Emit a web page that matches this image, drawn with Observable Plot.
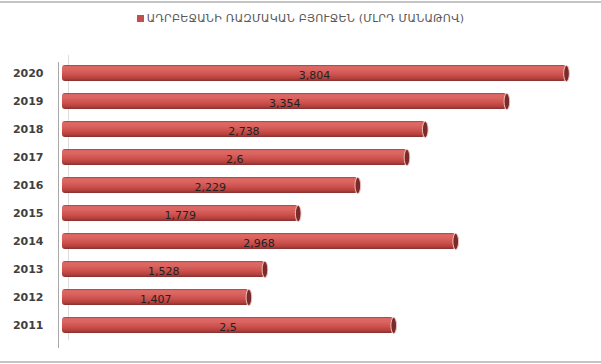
<!DOCTYPE html>
<html><head><meta charset="utf-8">
<script src="https://cdn.jsdelivr.net/npm/d3@7"></script>
<script src="https://cdn.jsdelivr.net/npm/@observablehq/plot@0.6"></script>
<style>
body{margin:0;background:#fff;font-family:"DejaVu Sans",sans-serif;}
#wrap{position:relative;width:601px;height:364px;overflow:hidden;}
#frame{position:absolute;left:-2px;top:1px;width:605px;height:362px;border-top:2px solid #c4c4c4;border-bottom:2px solid #c4c4c4;box-sizing:border-box;}
#legend{position:absolute;left:0;top:12px;width:601px;text-align:center;font-size:11px;letter-spacing:0.25px;color:#595959;white-space:nowrap;}
#legend .sw{display:inline-block;width:7px;height:7px;background:#c0504d;margin-right:3px;vertical-align:0px;}
#chart{position:absolute;left:0;top:40px;}
</style></head>
<body><div id="wrap"><div id="frame"></div>
<div id="legend"><span class="sw"></span><span id="ltxt"></span></div>
<div id="chart"></div></div>
<script>
const legendLabel = "ԱԴՐԲԵՋԱՆԻ ՌԱԶՄԱԿԱՆ ԲՅՈՒՋԵՆ (ՄԼՐԴ ՄԱՆԱԹՈՎ)";
const years = ["2020","2019","2018","2017","2016","2015","2014","2013","2012","2011"];
const budget = [3.804, 3.354, 2.738, 2.6, 2.229, 1.779, 2.968, 1.528, 1.407, 2.5];

document.getElementById("ltxt").textContent = legendLabel;
const data = years.map((y, i) => ({year: y, value: budget[i]}));
const fmt = v => String(v).replace(".", ",");

const ellipse = {
  draw(ctx) {
    const rx = 2.8, ry = 8, k = 0.5523;
    ctx.moveTo(0, -ry);
    ctx.bezierCurveTo(rx*k, -ry, rx, -ry*k, rx, 0);
    ctx.bezierCurveTo(rx, ry*k, rx*k, ry, 0, ry);
    ctx.bezierCurveTo(-rx*k, ry, -rx, ry*k, -rx, 0);
    ctx.bezierCurveTo(-rx, -ry*k, -rx*k, -ry, 0, -ry);
    ctx.closePath();
  }
};

const chart = Plot.plot({
  width: 601, height: 324,
  marginLeft: 62, marginRight: 35, marginTop: 13, marginBottom: 19,
  x: {domain: [0, 3.804], axis: null},
  y: {domain: years, padding: 0.43, round: false, label: null, tickSize: 0, tickPadding: 19},
  style: {fontFamily: "DejaVu Sans, sans-serif", fontSize: "11px", color: "#404040", background: "transparent"},
  marks: [
    Plot.ruleX([0], {dx: -4, insetTop: 9, insetBottom: -3, stroke: "#a8a8a8"}),
    Plot.ruleX([0], {dx: 6, insetTop: 2, insetBottom: 5, stroke: "#dcdcdc"}),
    Plot.barX(data, {x: "value", y: "year", fill: "url(#cyl)", rx: 3}),
    Plot.dot(data, {x: "value", y: "year", symbol: ellipse, fill: "#7a2a28", stroke: "#f2c4c2", strokeWidth: 1}),
    Plot.text(data, {x: d => d.value / 2, y: "year", text: d => fmt(d.value), dy: 2, fill: "#222", fontSize: 11})
  ]
});
const defs = d3.select(chart).insert("defs", ":first-child");
const g = defs.append("linearGradient").attr("id", "cyl").attr("x1", 0).attr("x2", 0).attr("y1", 0).attr("y2", 1);
[[0,"#a33e3b"],[0.1,"#dc6a66"],[0.3,"#da6460"],[0.6,"#cd514d"],[0.85,"#b2403d"],[1,"#84302e"]]
  .forEach(([o,c]) => g.append("stop").attr("offset", o).attr("stop-color", c));
d3.select(chart).select("[aria-label='y-axis tick label']").attr("font-weight", "bold").attr("fill", "#404040");
document.getElementById("chart").appendChild(chart);
</script></body></html>
